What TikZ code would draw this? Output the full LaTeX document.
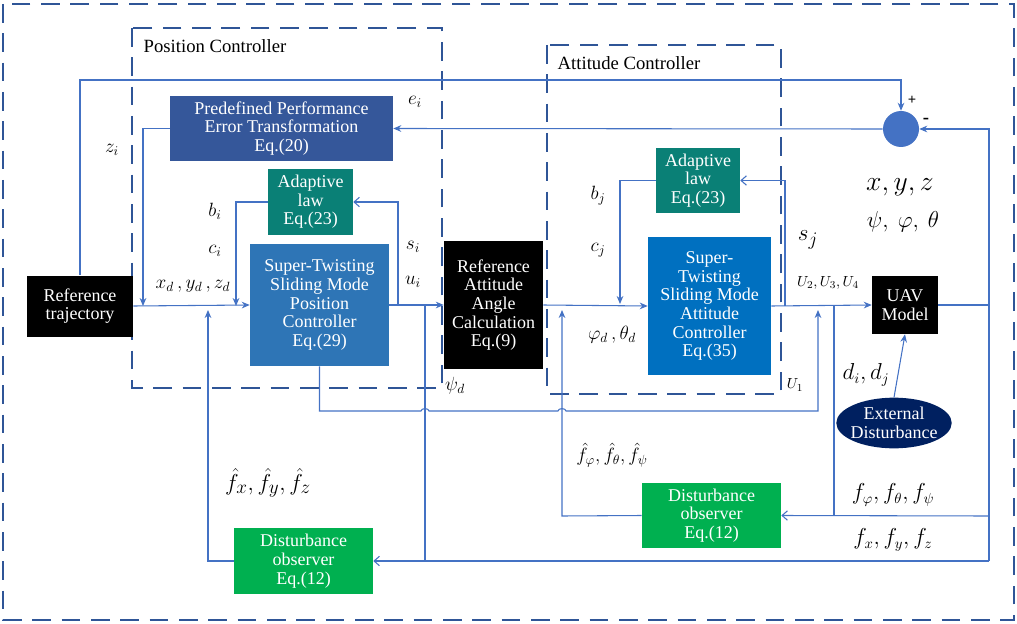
\documentclass[tikz,border=0pt]{standalone}
\usepackage{fontspec}
\setmainfont{Liberation Serif}
\usetikzlibrary{arrows.meta,shapes.geometric}
\definecolor{ln}{HTML}{4472C4}
\definecolor{dsh}{HTML}{2F5597}
\definecolor{ppt}{HTML}{35579A}
\definecolor{teal2}{HTML}{0A8076}
\definecolor{smcp}{HTML}{2E75B6}
\definecolor{smca}{HTML}{0070C0}
\definecolor{grn}{HTML}{00B050}
\definecolor{navy}{HTML}{002060}
\begin{document}
\begin{tikzpicture}[x=0.75pt,y=-0.75pt,
  box/.style={draw=none,align=center,text=white,inner sep=0pt,font=\fontsize{13.5}{14}\selectfont},
  conn/.style={draw=ln,line width=0.8pt},
  arr/.style={conn,-{Stealth[length=6pt,width=5pt]}},
  oarr/.style={conn,-{Straight Barb[length=4pt,width=7pt]}},
  dbox/.style={draw=dsh,line width=1.5pt,dash pattern=on 14pt off 8pt},
  lab/.style={font=\fontsize{14}{16}\selectfont}]
\useasboundingbox (0,0) rectangle (1017,624);
\draw[dbox] (3,4) rectangle (1014,620);
\draw[dbox] (132,28) rectangle (442,388);
\draw[dbox] (547,45) rectangle (781,394);
\node[lab,anchor=west] (pclab) at (139,46) {Position Controller};
\node[lab,anchor=west] (aclab) at (553,63) {Attitude Controller};

\node[box,fill=black,minimum width=79.5pt,minimum height=45.75pt] (ref) at (80,306) {Reference\\trajectory};
\node[box,fill=ppt,minimum width=167.25pt,minimum height=48.75pt] (ppt) at (281.5,128.5) {Predefined Performance\\Error Transformation\\Eq.(20)};
\node[box,fill=teal2,minimum width=63.75pt,minimum height=49.5pt] (adp) at (310.5,202) {Adaptive\\law\\Eq.(23)};
\node[box,fill=smcp,minimum width=104.25pt,minimum height=91.5pt] (smcp) at (319.5,305) {Super-Twisting\\Sliding Mode\\Position\\Controller\\Eq.(29)};
\node[box,fill=black,minimum width=74.25pt,minimum height=96pt] (raa) at (493.5,305) {Reference\\Attitude\\Angle\\Calculation\\Eq.(9)};
\node[box,fill=teal2,minimum width=63pt,minimum height=48.75pt] (ada) at (698,180.5) {Adaptive\\law\\Eq.(23)};
\node[box,fill=smca,minimum width=92.25pt,minimum height=103.5pt] (smca) at (709.5,306) {Super-\\Twisting\\Sliding Mode\\Attitude\\Controller\\Eq.(35)};
\node[box,fill=black,minimum width=49.5pt,minimum height=43.5pt] (uav) at (905,305) {UAV\\Model};
\node[box,fill=navy,ellipse,minimum width=84pt,minimum height=38pt,inner sep=-2pt] (ext) at (894,423) {External\\Disturbance};
\node[box,fill=grn,minimum width=104.25pt,minimum height=48.75pt] (doa) at (711.5,515.5) {Disturbance\\observer\\Eq.(12)};
\node[box,fill=grn,minimum width=104.25pt,minimum height=49.5pt] (dop) at (303.5,561) {Disturbance\\observer\\Eq.(12)};
\node[circle,fill=ln,minimum size=27pt,inner sep=0pt] (sum) at (901,129) {};

\draw[arr] (ref.north) -- (80,80) -- (901,80) -- (sum.north);
\draw[arr] (sum.west) -- (ppt.east);
\draw[arr] (ppt.west) -- (143,128.5) -- (143,306);
\draw[arr] (ref.east) -- (smcp.west);
\draw[arr] (adp.west) -- (236,202) -- (236,306);
\draw[arr] (smcp.east) -- (raa.west);
\coordinate (sbr) at (398,305);
\draw[oarr] (sbr) -- (398,202) -- (adp.east);
\draw[arr] (raa.east) -- (smca.west);
\draw[arr] (ada.west) -- (620,180.5) -- (620,304);
\coordinate (sbra) at (785,306);
\draw[oarr] (sbra) -- (785,180.5) -- (ada.east);
\draw[arr] (smca.east) -- (uav.west);
\draw[arr] (uav.east) -- (989,305) -- (989,129) -- (sum.east);
\draw[conn] (989,305) -- (989,561);
\draw[arr] (ext.north) -- (uav.south);
\draw[conn] (834,306) -- (834,516);
\draw[oarr] (989,516) -- (doa.east);
\draw[arr] (doa.west) -- (562,516) -- (562,310);
\draw[oarr] (989,561) -- (dop.east);
\draw[arr] (dop.west) -- (208,561) -- (208,310);
\draw[conn] (425,305) -- (425,561);
\draw[arr] (smcp.south) -- (319.5,411) -- (421,411) to[out=90,in=90] (429,411) -- (558,411) to[out=90,in=90] (566,411) -- (818,411) -- (818,310);

\node[lab] (ei) at (415,102) {$e_i$};
\node[lab] (zi) at (112,150) {$z_i$};
\node[lab] (bi) at (215,211) {$b_i$};
\node[lab] (ci) at (215,251) {$c_i$};
\node[lab] (xd) at (193,286) {$x_d\,,y_d\,,z_d$};
\node[lab] (si) at (413,247) {$s_i$};
\node[lab] (ui) at (413,282) {$u_i$};
\node[lab] (psid) at (455,386) {$\psi_d$};
\node[lab] (bj) at (598,196) {$b_j$};
\node[lab] (cj) at (598,250) {$c_j$};
\node[lab] (phd) at (612,335) {$\varphi_d\,,\theta_d$};
\node[font=\fontsize{19}{21}\selectfont] (sj) at (808,240) {$s_j$};
\node[font=\fontsize{11}{12}\selectfont] (u234) at (828,283) {$U_2,U_3,U_4$};
\node[font=\fontsize{11}{12}\selectfont] (u1) at (795,385) {$U_1$};
\node[font=\fontsize{20}{22}\selectfont] (xyz) at (900,187) {$x,y,z$};
\node[font=\fontsize{16}{18}\selectfont] (pft) at (903,222) {$\psi,\ \varphi,\ \theta$};
\node[font=\fontsize{16}{18}\selectfont] (dd) at (866,375) {$d_i,d_j$};
\node[font=\fontsize{19}{21}\selectfont] (fhp) at (268,483) {$\hat f_x,\hat f_y,\hat f_z$};
\node[font=\fontsize{14}{16}\selectfont] (fha) at (612,455) {$\hat f_\varphi,\hat f_\theta,\hat f_\psi$};
\node[font=\fontsize{16}{18}\selectfont] (fa) at (893,495) {$f_\varphi,f_\theta,f_\psi$};
\node[font=\fontsize{16}{18}\selectfont] (fp) at (893,540) {$f_x,f_y,f_z$};
\node[font=\bfseries\fontsize{11}{12}\selectfont] (plus) at (912,100) {+};
\node[font=\bfseries\fontsize{14}{12}\selectfont] (minus) at (926,121) {-};
\end{tikzpicture}
\end{document}
